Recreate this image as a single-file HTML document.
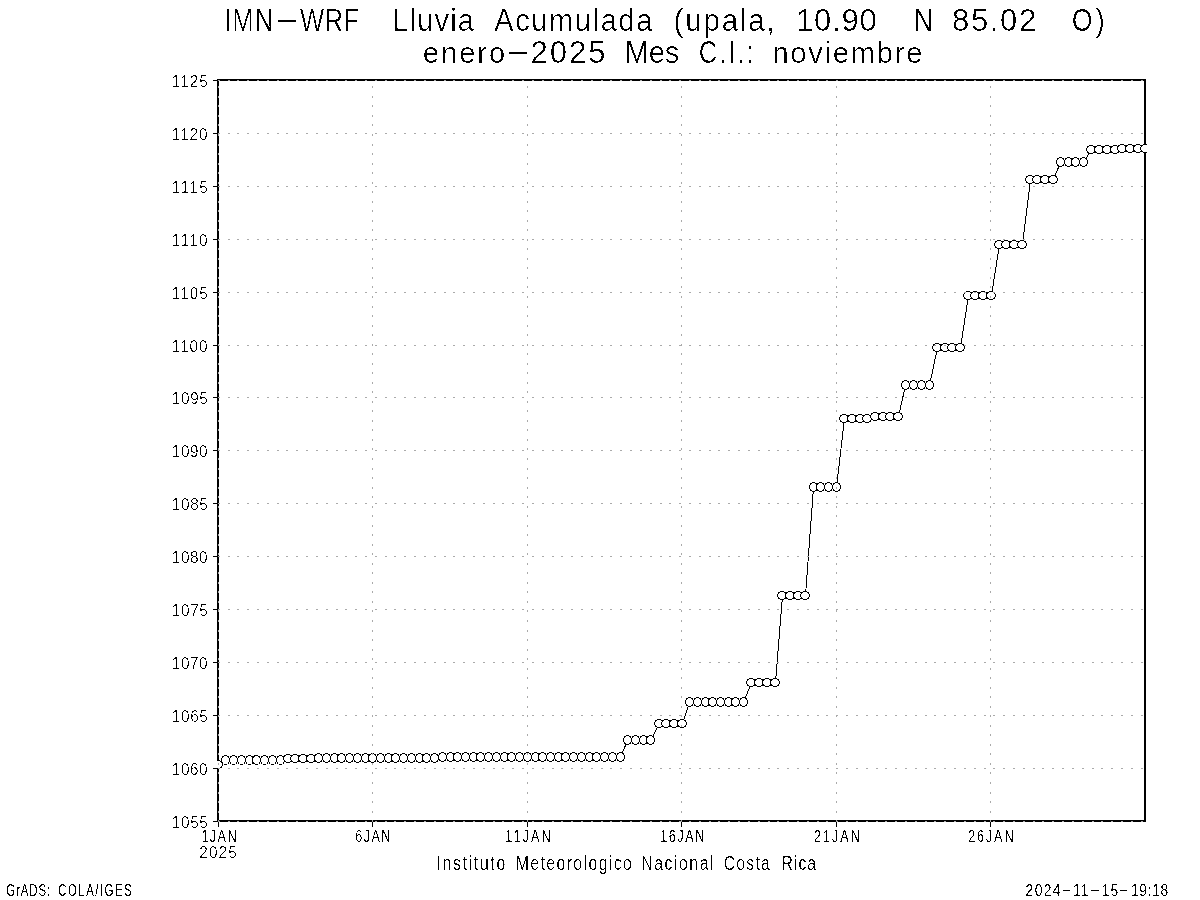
<!DOCTYPE html>
<html lang="es"><head><meta charset="utf-8"><title>IMN-WRF Lluvia Acumulada (upala)</title>
<style>html,body{margin:0;padding:0;background:#fff}body{width:1200px;height:900px;overflow:hidden}svg{display:block}text{font-family:"Liberation Sans",sans-serif;fill:#000;stroke:none}</style></head><body>
<svg width="1200" height="900" viewBox="0 0 1200 900" aria-label="IMN-WRF Lluvia Acumulada (upala, 10.90 N 85.02 O) enero-2025 Mes C.I.: noviembre. Instituto Meteorologico Nacional Costa Rica. GrADS: COLA/IGES 2024-11-15-19:18">
<rect width="1200" height="900" fill="#fff"/>
<g shape-rendering="crispEdges" fill="none" stroke="#000">
<rect x="218" y="80" width="927" height="741" stroke-width="2"/>
<path d="M213 821.5H217M213 768.5H217M213 715.5H217M213 662.5H217M213 609.5H217M213 556.5H217M213 503.5H217M213 450.5H217M213 397.5H217M213 345.5H217M213 292.5H217M213 239.5H217M213 186.5H217M213 133.5H217M213 80.5H217M218.5 822V827M372.5 822V827M527.5 822V827M681.5 822V827M836.5 822V827M990.5 822V827" stroke-width="1"/>
</g>
<defs><clipPath id="pa"><rect x="217" y="79" width="930" height="743"/></clipPath></defs>
<g clip-path="url(#pa)" shape-rendering="crispEdges" stroke="#000" stroke-width="1">
<polyline fill="none" points="218.5,764.5 225.5,760.5 233.5,760.5 241.5,760.5 249.5,760.5 256.5,760.5 264.5,760.5 272.5,760.5 280.5,760.5 288.5,758.5 295.5,758.5 303.5,758.5 311.5,758.5 318.5,758.5 326.5,758.5 334.5,758.5 341.5,758.5 349.5,758.5 357.5,758.5 365.5,758.5 372.5,758.5 380.5,758.5 388.5,758.5 395.5,758.5 403.5,758.5 411.5,758.5 419.5,758.5 426.5,758.5 434.5,758.5 442.5,757.5 450.5,757.5 457.5,757.5 465.5,757.5 473.5,757.5 480.5,757.5 488.5,757.5 496.5,757.5 504.5,757.5 511.5,757.5 519.5,757.5 527.5,757.5 535.5,757.5 542.5,757.5 550.5,757.5 558.5,757.5 565.5,757.5 573.5,757.5 581.5,757.5 589.5,757.5 596.5,757.5 604.5,757.5 612.5,757.5 620.5,757.5 627.5,740.5 635.5,740.5 643.5,740.5 650.5,740.5 659.5,723.5 666.5,723.5 674.5,723.5 682.5,723.5 689.5,702.5 697.5,702.5 705.5,702.5 712.5,702.5 720.5,702.5 728.5,702.5 735.5,702.5 743.5,702.5 751.5,682.5 759.5,682.5 767.5,682.5 775.5,682.5 782.5,595.5 790.5,595.5 798.5,595.5 805.5,595.5 813.5,487.5 820.5,487.5 828.5,487.5 836.5,487.5 844.5,418.5 852.5,418.5 860.5,418.5 867.5,418.5 875.5,416.5 883.5,416.5 890.5,416.5 898.5,416.5 905.5,385.5 913.5,385.5 921.5,385.5 929.5,385.5 937.5,347.5 945.5,347.5 952.5,347.5 960.5,347.5 968.5,295.5 975.5,295.5 983.5,295.5 991.5,295.5 999.5,244.5 1006.5,244.5 1014.5,244.5 1022.5,244.5 1030.5,179.5 1037.5,179.5 1045.5,179.5 1053.5,179.5 1060.5,162.5 1068.5,162.5 1075.5,162.5 1083.5,162.5 1091.5,149.5 1099.5,149.5 1107.5,149.5 1115.5,149.5 1122.5,148.5 1130.5,148.5 1138.5,148.5 1145.5,148.5"/>
<g fill="#fff">
<ellipse cx="218" cy="764.5" rx="4.5" ry="4"/>
<ellipse cx="225.5" cy="760" rx="4" ry="4.5"/>
<ellipse cx="233.5" cy="760" rx="4" ry="4.5"/>
<ellipse cx="241.5" cy="760" rx="4" ry="4.5"/>
<ellipse cx="249.5" cy="760" rx="4" ry="4.5"/>
<ellipse cx="256.5" cy="760" rx="4" ry="4.5"/>
<ellipse cx="264.5" cy="760" rx="4" ry="4.5"/>
<ellipse cx="272.5" cy="760" rx="4" ry="4.5"/>
<ellipse cx="280.5" cy="760" rx="4" ry="4.5"/>
<ellipse cx="288" cy="758.5" rx="4.5" ry="4"/>
<ellipse cx="295" cy="758.5" rx="4.5" ry="4"/>
<ellipse cx="303" cy="758.5" rx="4.5" ry="4"/>
<ellipse cx="311" cy="758.5" rx="4.5" ry="4"/>
<ellipse cx="318.5" cy="758" rx="4" ry="4.5"/>
<ellipse cx="326.5" cy="758" rx="4" ry="4.5"/>
<ellipse cx="334.5" cy="758" rx="4" ry="4.5"/>
<ellipse cx="341.5" cy="758" rx="4" ry="4.5"/>
<ellipse cx="349.5" cy="758" rx="4" ry="4.5"/>
<ellipse cx="357.5" cy="758" rx="4" ry="4.5"/>
<ellipse cx="365.5" cy="758" rx="4" ry="4.5"/>
<ellipse cx="372.5" cy="758" rx="4" ry="4.5"/>
<ellipse cx="380.5" cy="758" rx="4" ry="4.5"/>
<ellipse cx="388.5" cy="758" rx="4" ry="4.5"/>
<ellipse cx="395.5" cy="758" rx="4" ry="4.5"/>
<ellipse cx="403.5" cy="758" rx="4" ry="4.5"/>
<ellipse cx="411.5" cy="758" rx="4" ry="4.5"/>
<ellipse cx="419.5" cy="758" rx="4" ry="4.5"/>
<ellipse cx="426.5" cy="758" rx="4" ry="4.5"/>
<ellipse cx="434.5" cy="758" rx="4" ry="4.5"/>
<ellipse cx="442.5" cy="757" rx="4" ry="4.5"/>
<ellipse cx="450.5" cy="757" rx="4" ry="4.5"/>
<ellipse cx="457.5" cy="757" rx="4" ry="4.5"/>
<ellipse cx="465.5" cy="757" rx="4" ry="4.5"/>
<ellipse cx="473.5" cy="757" rx="4" ry="4.5"/>
<ellipse cx="480.5" cy="757" rx="4" ry="4.5"/>
<ellipse cx="488.5" cy="757" rx="4" ry="4.5"/>
<ellipse cx="496.5" cy="757" rx="4" ry="4.5"/>
<ellipse cx="504.5" cy="757" rx="4" ry="4.5"/>
<ellipse cx="511.5" cy="757" rx="4" ry="4.5"/>
<ellipse cx="519.5" cy="757" rx="4" ry="4.5"/>
<ellipse cx="527.5" cy="757" rx="4" ry="4.5"/>
<ellipse cx="535.5" cy="757" rx="4" ry="4.5"/>
<ellipse cx="542.5" cy="757" rx="4" ry="4.5"/>
<ellipse cx="550.5" cy="757" rx="4" ry="4.5"/>
<ellipse cx="558.5" cy="757" rx="4" ry="4.5"/>
<ellipse cx="565.5" cy="757" rx="4" ry="4.5"/>
<ellipse cx="573.5" cy="757" rx="4" ry="4.5"/>
<ellipse cx="581.5" cy="757" rx="4" ry="4.5"/>
<ellipse cx="589.5" cy="757" rx="4" ry="4.5"/>
<ellipse cx="596.5" cy="757" rx="4" ry="4.5"/>
<ellipse cx="604.5" cy="757" rx="4" ry="4.5"/>
<ellipse cx="612.5" cy="757" rx="4" ry="4.5"/>
<ellipse cx="620.5" cy="757" rx="4" ry="4.5"/>
<ellipse cx="627.5" cy="740" rx="4" ry="4.5"/>
<ellipse cx="635.5" cy="740" rx="4" ry="4.5"/>
<ellipse cx="643.5" cy="740" rx="4" ry="4.5"/>
<ellipse cx="650.5" cy="740" rx="4" ry="4.5"/>
<ellipse cx="659" cy="723.5" rx="4.5" ry="4"/>
<ellipse cx="666" cy="723.5" rx="4.5" ry="4"/>
<ellipse cx="674" cy="723.5" rx="4.5" ry="4"/>
<ellipse cx="682" cy="723.5" rx="4.5" ry="4"/>
<ellipse cx="689.5" cy="702" rx="4" ry="4.5"/>
<ellipse cx="697.5" cy="702" rx="4" ry="4.5"/>
<ellipse cx="705.5" cy="702" rx="4" ry="4.5"/>
<ellipse cx="712.5" cy="702" rx="4" ry="4.5"/>
<ellipse cx="720.5" cy="702" rx="4" ry="4.5"/>
<ellipse cx="728.5" cy="702" rx="4" ry="4.5"/>
<ellipse cx="735.5" cy="702" rx="4" ry="4.5"/>
<ellipse cx="743.5" cy="702" rx="4" ry="4.5"/>
<ellipse cx="751" cy="682.5" rx="4.5" ry="4"/>
<ellipse cx="759" cy="682.5" rx="4.5" ry="4"/>
<ellipse cx="767" cy="682.5" rx="4.5" ry="4"/>
<ellipse cx="775" cy="682.5" rx="4.5" ry="4"/>
<ellipse cx="782" cy="595.5" rx="4.5" ry="4"/>
<ellipse cx="790" cy="595.5" rx="4.5" ry="4"/>
<ellipse cx="798" cy="595.5" rx="4.5" ry="4"/>
<ellipse cx="805" cy="595.5" rx="4.5" ry="4"/>
<ellipse cx="813.5" cy="487" rx="4" ry="4.5"/>
<ellipse cx="820.5" cy="487" rx="4" ry="4.5"/>
<ellipse cx="828.5" cy="487" rx="4" ry="4.5"/>
<ellipse cx="836.5" cy="487" rx="4" ry="4.5"/>
<ellipse cx="844" cy="418.5" rx="4.5" ry="4"/>
<ellipse cx="852" cy="418.5" rx="4.5" ry="4"/>
<ellipse cx="860" cy="418.5" rx="4.5" ry="4"/>
<ellipse cx="867" cy="418.5" rx="4.5" ry="4"/>
<ellipse cx="875" cy="416.5" rx="4.5" ry="4"/>
<ellipse cx="883" cy="416.5" rx="4.5" ry="4"/>
<ellipse cx="890" cy="416.5" rx="4.5" ry="4"/>
<ellipse cx="898" cy="416.5" rx="4.5" ry="4"/>
<ellipse cx="905.5" cy="385" rx="4" ry="4.5"/>
<ellipse cx="913.5" cy="385" rx="4" ry="4.5"/>
<ellipse cx="921.5" cy="385" rx="4" ry="4.5"/>
<ellipse cx="929.5" cy="385" rx="4" ry="4.5"/>
<ellipse cx="937" cy="347.5" rx="4.5" ry="4"/>
<ellipse cx="945" cy="347.5" rx="4.5" ry="4"/>
<ellipse cx="952" cy="347.5" rx="4.5" ry="4"/>
<ellipse cx="960" cy="347.5" rx="4.5" ry="4"/>
<ellipse cx="968" cy="295.5" rx="4.5" ry="4"/>
<ellipse cx="975" cy="295.5" rx="4.5" ry="4"/>
<ellipse cx="983" cy="295.5" rx="4.5" ry="4"/>
<ellipse cx="991" cy="295.5" rx="4.5" ry="4"/>
<ellipse cx="999" cy="244.5" rx="4.5" ry="4"/>
<ellipse cx="1006" cy="244.5" rx="4.5" ry="4"/>
<ellipse cx="1014" cy="244.5" rx="4.5" ry="4"/>
<ellipse cx="1022" cy="244.5" rx="4.5" ry="4"/>
<ellipse cx="1030" cy="179.5" rx="4.5" ry="4"/>
<ellipse cx="1037" cy="179.5" rx="4.5" ry="4"/>
<ellipse cx="1045" cy="179.5" rx="4.5" ry="4"/>
<ellipse cx="1053" cy="179.5" rx="4.5" ry="4"/>
<ellipse cx="1060.5" cy="162" rx="4" ry="4.5"/>
<ellipse cx="1068.5" cy="162" rx="4" ry="4.5"/>
<ellipse cx="1075.5" cy="162" rx="4" ry="4.5"/>
<ellipse cx="1083.5" cy="162" rx="4" ry="4.5"/>
<ellipse cx="1091" cy="149.5" rx="4.5" ry="4"/>
<ellipse cx="1099" cy="149.5" rx="4.5" ry="4"/>
<ellipse cx="1107" cy="149.5" rx="4.5" ry="4"/>
<ellipse cx="1115" cy="149.5" rx="4.5" ry="4"/>
<ellipse cx="1122" cy="148.5" rx="4.5" ry="4"/>
<ellipse cx="1130" cy="148.5" rx="4.5" ry="4"/>
<ellipse cx="1138" cy="148.5" rx="4.5" ry="4"/>
<ellipse cx="1145" cy="148.5" rx="4.5" ry="4"/>
</g></g>
<g shape-rendering="crispEdges" fill="none" stroke="#aaaaaa" stroke-width="1">
<line x1="217.70" y1="821.5" x2="1146" y2="821.5" stroke-dasharray="2 7.818"/>
<line x1="217.70" y1="768.5" x2="1146" y2="768.5" stroke-dasharray="2 7.818"/>
<line x1="217.70" y1="715.5" x2="1146" y2="715.5" stroke-dasharray="2 7.818"/>
<line x1="217.70" y1="662.5" x2="1146" y2="662.5" stroke-dasharray="2 7.818"/>
<line x1="217.70" y1="609.5" x2="1146" y2="609.5" stroke-dasharray="2 7.818"/>
<line x1="217.70" y1="556.5" x2="1146" y2="556.5" stroke-dasharray="2 7.818"/>
<line x1="217.70" y1="503.5" x2="1146" y2="503.5" stroke-dasharray="2 7.818"/>
<line x1="217.70" y1="450.5" x2="1146" y2="450.5" stroke-dasharray="2 7.818"/>
<line x1="217.70" y1="397.5" x2="1146" y2="397.5" stroke-dasharray="2 7.818"/>
<line x1="217.70" y1="345.5" x2="1146" y2="345.5" stroke-dasharray="2 7.818"/>
<line x1="217.70" y1="292.5" x2="1146" y2="292.5" stroke-dasharray="2 7.818"/>
<line x1="217.70" y1="239.5" x2="1146" y2="239.5" stroke-dasharray="2 7.818"/>
<line x1="217.70" y1="186.5" x2="1146" y2="186.5" stroke-dasharray="2 7.818"/>
<line x1="217.70" y1="133.5" x2="1146" y2="133.5" stroke-dasharray="2 7.818"/>
<line x1="217.70" y1="80.5" x2="1146" y2="80.5" stroke-dasharray="2 7.818"/>
<line x1="218.5" y1="822.10" x2="218.5" y2="79" stroke-dasharray="2 7.529"/>
<line x1="372.5" y1="822.10" x2="372.5" y2="79" stroke-dasharray="2 7.529"/>
<line x1="527.5" y1="822.10" x2="527.5" y2="79" stroke-dasharray="2 7.529"/>
<line x1="681.5" y1="822.10" x2="681.5" y2="79" stroke-dasharray="2 7.529"/>
<line x1="836.5" y1="822.10" x2="836.5" y2="79" stroke-dasharray="2 7.529"/>
<line x1="990.5" y1="822.10" x2="990.5" y2="79" stroke-dasharray="2 7.529"/>
</g>
<defs><filter id="px50" x="-2%" y="-10%" width="104%" height="120%" color-interpolation-filters="sRGB"><feColorMatrix type="matrix" values="0 0 0 0 0  0 0 0 0 0  0 0 0 0 0  -0.3333 -0.3333 -0.3334 1 0"/><feComponentTransfer><feFuncA type="linear" slope="255" intercept="-127.00"/></feComponentTransfer></filter><filter id="px55" x="-2%" y="-10%" width="104%" height="120%" color-interpolation-filters="sRGB"><feColorMatrix type="matrix" values="0 0 0 0 0  0 0 0 0 0  0 0 0 0 0  -0.3333 -0.3333 -0.3334 1 0"/><feComponentTransfer><feFuncA type="linear" slope="255" intercept="-139.75"/></feComponentTransfer></filter><filter id="px60" x="-2%" y="-10%" width="104%" height="120%" color-interpolation-filters="sRGB"><feColorMatrix type="matrix" values="0 0 0 0 0  0 0 0 0 0  0 0 0 0 0  -0.3333 -0.3333 -0.3334 1 0"/><feComponentTransfer><feFuncA type="linear" slope="255" intercept="-152.50"/></feComponentTransfer></filter><filter id="px65" x="-2%" y="-10%" width="104%" height="120%" color-interpolation-filters="sRGB"><feColorMatrix type="matrix" values="0 0 0 0 0  0 0 0 0 0  0 0 0 0 0  -0.3333 -0.3333 -0.3334 1 0"/><feComponentTransfer><feFuncA type="linear" slope="255" intercept="-165.25"/></feComponentTransfer></filter><filter id="px70" x="-2%" y="-10%" width="104%" height="120%" color-interpolation-filters="sRGB"><feColorMatrix type="matrix" values="0 0 0 0 0  0 0 0 0 0  0 0 0 0 0  -0.3333 -0.3333 -0.3334 1 0"/><feComponentTransfer><feFuncA type="linear" slope="255" intercept="-178.00"/></feComponentTransfer></filter></defs><g>
<text xml:space="preserve" filter="url(#px70)"><tspan x="224.00" y="31.20" font-size="31.98" textLength="50.63" lengthAdjust="spacingAndGlyphs" letter-spacing="1.56">IMN</tspan><tspan x="274.61" y="29.44" font-size="31.98" textLength="24.89" lengthAdjust="spacingAndGlyphs">-</tspan><tspan x="300.00" y="31.20" font-size="31.98" textLength="59.13" lengthAdjust="spacingAndGlyphs" letter-spacing="0.37">WRF</tspan>  <tspan x="392.43" y="31.20" font-size="31.21" textLength="82.73" lengthAdjust="spacingAndGlyphs" letter-spacing="1.24">Lluvia</tspan> <tspan x="494.20" y="31.20" font-size="31.21" textLength="159.73" lengthAdjust="spacingAndGlyphs" letter-spacing="1.74">Acumulada</tspan> <tspan x="673.61" y="31.20" font-size="31.21" textLength="102.85" lengthAdjust="spacingAndGlyphs" letter-spacing="1.84">(upala,</tspan> <tspan x="796.06" y="31.20" font-size="31.07" textLength="81.45" lengthAdjust="spacingAndGlyphs" letter-spacing="0.74">10.90</tspan>  <tspan x="913.69" y="31.20" font-size="31.98" textLength="19.51" lengthAdjust="spacingAndGlyphs">N</tspan> <tspan x="952.03" y="31.20" font-size="31.07" textLength="85.85" lengthAdjust="spacingAndGlyphs" letter-spacing="1.62">85.02</tspan>  <tspan x="1071.75" y="31.20" font-size="31.43" textLength="36.19" lengthAdjust="spacingAndGlyphs" letter-spacing="3.83">O)</tspan></text>
<text xml:space="preserve" filter="url(#px70)"><tspan x="422.84" y="63.20" font-size="29.17" textLength="84.28" lengthAdjust="spacingAndGlyphs" letter-spacing="1.94">enero</tspan><tspan x="505.61" y="61.44" font-size="31.98" textLength="24.89" lengthAdjust="spacingAndGlyphs">-</tspan><tspan x="530.54" y="63.20" font-size="31.07" textLength="76.85" lengthAdjust="spacingAndGlyphs" letter-spacing="1.93">2025</tspan> <tspan x="624.73" y="63.20" font-size="31.21" textLength="54.30" lengthAdjust="spacingAndGlyphs" letter-spacing="-0.19">Mes</tspan> <tspan x="698.80" y="63.20" font-size="31.98" textLength="56.16" lengthAdjust="spacingAndGlyphs" letter-spacing="2.31">C.I.:</tspan> <tspan x="772.38" y="63.20" font-size="29.17" textLength="151.85" lengthAdjust="spacingAndGlyphs" letter-spacing="1.74">noviembre</tspan></text>
<text xml:space="preserve" filter="url(#px60)"><tspan x="436.51" y="870.20" font-size="19.57" textLength="70.39" lengthAdjust="spacingAndGlyphs" letter-spacing="2.05">Instituto</tspan> <tspan x="515.66" y="870.20" font-size="19.57" textLength="117.62" lengthAdjust="spacingAndGlyphs" letter-spacing="1.73">Meteorologico</tspan> <tspan x="641.26" y="870.20" font-size="19.57" textLength="73.80" lengthAdjust="spacingAndGlyphs" letter-spacing="1.88">Nacional</tspan> <tspan x="723.66" y="870.20" font-size="19.57" textLength="47.46" lengthAdjust="spacingAndGlyphs" letter-spacing="1.50">Costa</tspan> <tspan x="781.51" y="870.20" font-size="19.57" textLength="35.62" lengthAdjust="spacingAndGlyphs" letter-spacing="1.22">Rica</tspan></text>
<text xml:space="preserve" filter="url(#px50)"><tspan x="6.21" y="896.20" font-size="16.28" textLength="44.93" lengthAdjust="spacingAndGlyphs" letter-spacing="1.29">GrADS:</tspan> <tspan x="58.26" y="896.20" font-size="16.28" textLength="74.93" lengthAdjust="spacingAndGlyphs" letter-spacing="2.08">COLA/IGES</tspan></text>
<text xml:space="preserve" filter="url(#px55)"><tspan x="1025.55" y="896.20" font-size="15.82" textLength="36.41" lengthAdjust="spacingAndGlyphs" letter-spacing="1.55">2024</tspan><tspan x="1061.25" y="895.30" font-size="16.28" textLength="10.15" lengthAdjust="spacingAndGlyphs">-</tspan><tspan x="1072.88" y="896.20" font-size="15.82" textLength="16.92" lengthAdjust="spacingAndGlyphs" letter-spacing="1.40">11</tspan><tspan x="1089.71" y="895.30" font-size="16.28" textLength="10.53" lengthAdjust="spacingAndGlyphs">-</tspan><tspan x="1101.83" y="896.20" font-size="15.82" textLength="17.38" lengthAdjust="spacingAndGlyphs" letter-spacing="1.08">15</tspan><tspan x="1118.21" y="895.30" font-size="16.28" textLength="10.53" lengthAdjust="spacingAndGlyphs">-</tspan><tspan x="1130.93" y="896.20" font-size="15.82" textLength="38.08" lengthAdjust="spacingAndGlyphs" letter-spacing="0.74">19:18</tspan></text>
<text xml:space="preserve" filter="url(#px65)"><tspan x="171.84" y="828.20" font-size="16.67" textLength="36.60" lengthAdjust="spacingAndGlyphs" letter-spacing="0.68">1055</tspan></text>
<text xml:space="preserve" filter="url(#px65)"><tspan x="171.84" y="775.20" font-size="16.67" textLength="36.28" lengthAdjust="spacingAndGlyphs" letter-spacing="0.59">1060</tspan></text>
<text xml:space="preserve" filter="url(#px65)"><tspan x="171.84" y="722.20" font-size="16.67" textLength="36.60" lengthAdjust="spacingAndGlyphs" letter-spacing="0.68">1065</tspan></text>
<text xml:space="preserve" filter="url(#px65)"><tspan x="171.84" y="669.20" font-size="16.67" textLength="36.28" lengthAdjust="spacingAndGlyphs" letter-spacing="0.59">1070</tspan></text>
<text xml:space="preserve" filter="url(#px65)"><tspan x="171.84" y="616.20" font-size="16.67" textLength="36.60" lengthAdjust="spacingAndGlyphs" letter-spacing="0.68">1075</tspan></text>
<text xml:space="preserve" filter="url(#px65)"><tspan x="171.84" y="563.20" font-size="16.67" textLength="36.28" lengthAdjust="spacingAndGlyphs" letter-spacing="0.59">1080</tspan></text>
<text xml:space="preserve" filter="url(#px65)"><tspan x="171.84" y="510.20" font-size="16.67" textLength="36.60" lengthAdjust="spacingAndGlyphs" letter-spacing="0.68">1085</tspan></text>
<text xml:space="preserve" filter="url(#px65)"><tspan x="171.84" y="457.20" font-size="16.67" textLength="36.28" lengthAdjust="spacingAndGlyphs" letter-spacing="0.59">1090</tspan></text>
<text xml:space="preserve" filter="url(#px65)"><tspan x="171.84" y="404.20" font-size="16.67" textLength="36.60" lengthAdjust="spacingAndGlyphs" letter-spacing="0.68">1095</tspan></text>
<text xml:space="preserve" filter="url(#px65)"><tspan x="171.84" y="352.20" font-size="16.67" textLength="36.66" lengthAdjust="spacingAndGlyphs" letter-spacing="1.00">1100</tspan></text>
<text xml:space="preserve" filter="url(#px65)"><tspan x="171.84" y="299.20" font-size="16.67" textLength="36.98" lengthAdjust="spacingAndGlyphs" letter-spacing="1.09">1105</tspan></text>
<text xml:space="preserve" filter="url(#px65)"><tspan x="171.84" y="246.20" font-size="16.67" textLength="37.04" lengthAdjust="spacingAndGlyphs" letter-spacing="1.42">1110</tspan></text>
<text xml:space="preserve" filter="url(#px65)"><tspan x="171.84" y="193.20" font-size="16.67" textLength="37.36" lengthAdjust="spacingAndGlyphs" letter-spacing="1.50">1115</tspan></text>
<text xml:space="preserve" filter="url(#px65)"><tspan x="171.84" y="140.20" font-size="16.67" textLength="36.66" lengthAdjust="spacingAndGlyphs" letter-spacing="1.00">1120</tspan></text>
<text xml:space="preserve" filter="url(#px65)"><tspan x="171.84" y="87.20" font-size="16.67" textLength="36.98" lengthAdjust="spacingAndGlyphs" letter-spacing="1.09">1125</tspan></text>
<text xml:space="preserve" filter="url(#px55)"><tspan x="201.41" y="842.20" font-size="17.15" textLength="36.54" lengthAdjust="spacingAndGlyphs" letter-spacing="1.93">1JAN</tspan></text>
<text xml:space="preserve" filter="url(#px55)"><tspan x="355.31" y="842.20" font-size="17.15" textLength="36.41" lengthAdjust="spacingAndGlyphs" letter-spacing="1.88">6JAN</tspan></text>
<text xml:space="preserve" filter="url(#px55)"><tspan x="505.21" y="842.20" font-size="17.15" textLength="47.41" lengthAdjust="spacingAndGlyphs" letter-spacing="2.84">11JAN</tspan></text>
<text xml:space="preserve" filter="url(#px55)"><tspan x="660.21" y="842.20" font-size="17.15" textLength="45.68" lengthAdjust="spacingAndGlyphs" letter-spacing="2.12">16JAN</tspan></text>
<text xml:space="preserve" filter="url(#px55)"><tspan x="813.91" y="842.20" font-size="17.15" textLength="47.87" lengthAdjust="spacingAndGlyphs" letter-spacing="2.71">21JAN</tspan></text>
<text xml:space="preserve" filter="url(#px55)"><tspan x="968.16" y="842.20" font-size="17.15" textLength="47.24" lengthAdjust="spacingAndGlyphs" letter-spacing="2.54">26JAN</tspan></text>
<text xml:space="preserve" filter="url(#px65)"><tspan x="199.28" y="858.20" font-size="16.67" textLength="38.55" lengthAdjust="spacingAndGlyphs" letter-spacing="1.21">2025</tspan></text>
</g>
</svg></body></html>
